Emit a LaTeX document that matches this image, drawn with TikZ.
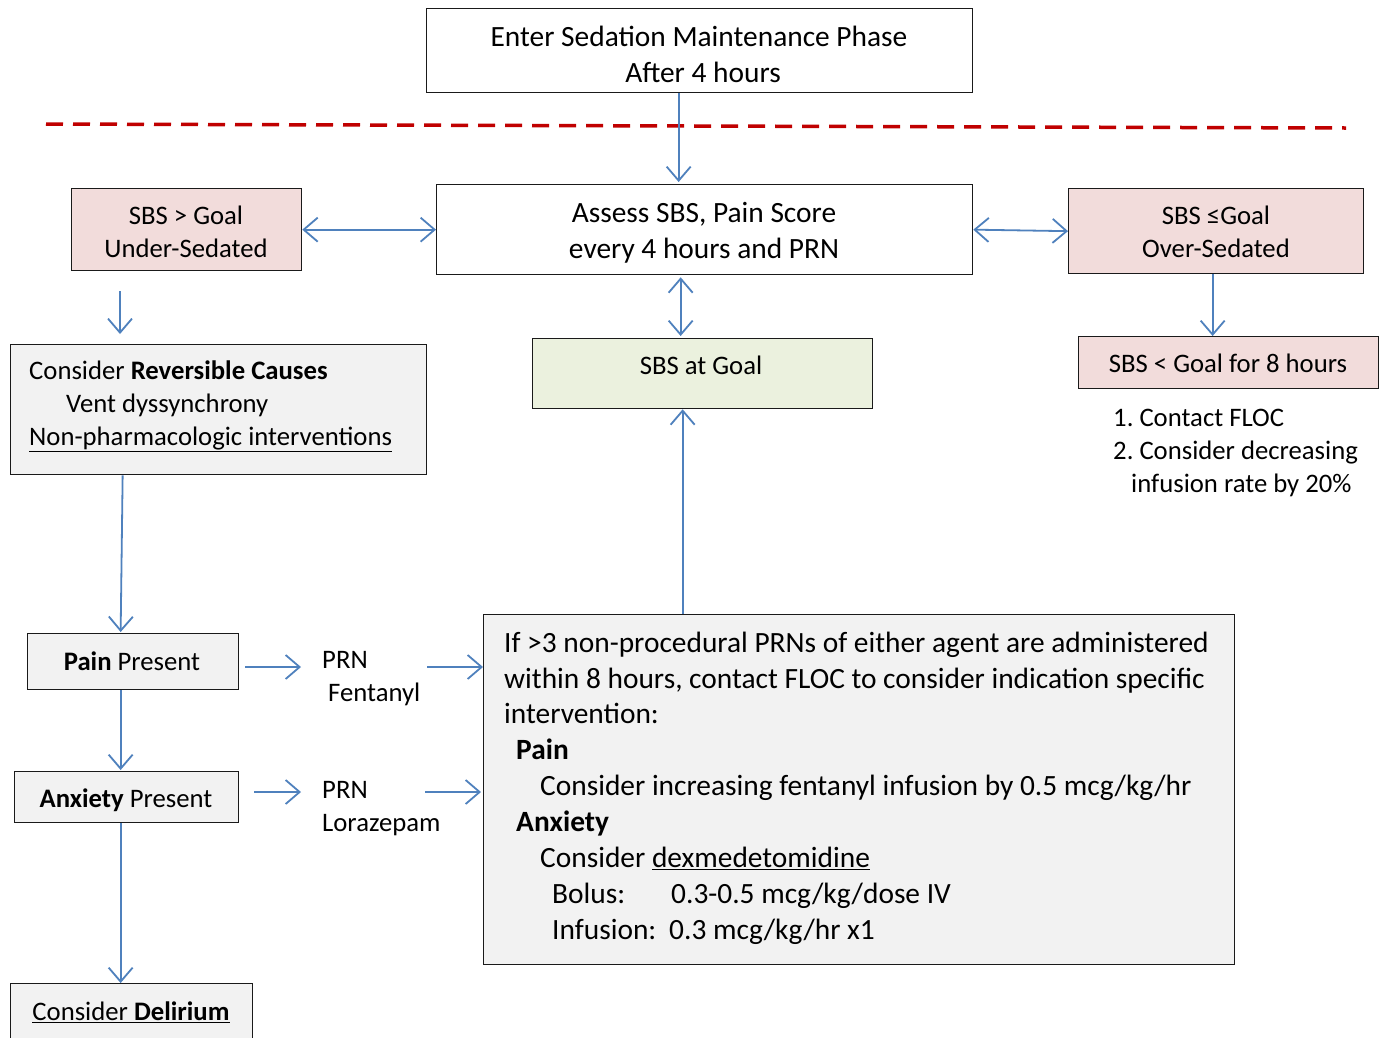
\documentclass[tikz,border=0pt]{standalone}
\usepackage{fontspec}
\setmainfont{Carlito}
\usetikzlibrary{arrows.meta}
\definecolor{flowblue}{HTML}{4F81BD}
\definecolor{dashred}{HTML}{C00000}
\definecolor{pinkfill}{HTML}{F2DCDB}
\definecolor{greenfill}{HTML}{EBF1DE}
\definecolor{grayfill}{HTML}{F2F2F2}
\definecolor{edge}{HTML}{1A1A1A}
\begin{document}
\begin{tikzpicture}[x=1pt,y=-1pt,
  box/.style={draw=edge, line width=1.3pt, rectangle, inner sep=0pt, anchor=north west},
  pinkbox/.style={box, fill=pinkfill},
  greenbox/.style={box, fill=greenfill},
  graybox/.style={box, fill=grayfill},
  txt/.style={inner sep=0pt, font=\fontsize{26.7}{32}\selectfont},
  bigtxt/.style={inner sep=0pt, font=\fontsize{29.4}{36}\selectfont},
  tip/.tip={Straight Barb[length=14pt,width=24pt]},
  flow/.style={draw=flowblue, line width=1.8pt, -tip},
  both/.style={draw=flowblue, line width=1.8pt, tip-tip},
]
\useasboundingbox (0,0) rectangle (1386,1037);
\fill[white] (0,0) rectangle (1386,1037);

% boxes
\node[box, minimum width=546pt, minimum height=84pt] (top) at (426,8) {};
\node[box, minimum width=536pt, minimum height=90pt] (assess) at (436,184) {};
\node[pinkbox, minimum width=230pt, minimum height=82pt] (under) at (71,188) {};
\node[pinkbox, minimum width=295pt, minimum height=85pt] (over) at (1068,188) {};
\node[pinkbox, minimum width=300pt, minimum height=52pt] (low8) at (1078,336) {};
\node[greenbox, minimum width=340pt, minimum height=70pt] (goal) at (532,338) {};
\node[graybox, minimum width=416pt, minimum height=130pt] (cons) at (10,344) {};
\node[graybox, minimum width=211pt, minimum height=56pt] (pain) at (27,633) {};
\node[graybox, minimum width=224pt, minimum height=51pt] (anx) at (14,771) {};
\node[graybox, minimum width=242pt, minimum height=70pt] (delir) at (10,983) {};
\node[graybox, minimum width=751pt, minimum height=350pt] (big) at (483,614) {};

% phase separator
\coordinate (sepL) at (46,124);
\coordinate (sepR) at (1346,128);
\draw[dashred, line width=3.5pt, dash pattern=on 17pt off 10pt] (sepL) -- (sepR);

% box texts
\node[bigtxt, anchor=base] (topA) at (699,46.5) {Enter Sedation Maintenance Phase};
\node[bigtxt, anchor=base] (topB) at (703,82.5) {After 4 hours};
\node[bigtxt, anchor=base] (asA) at (704,222.5) {Assess SBS, Pain Score};
\node[bigtxt, anchor=base] (asB) at (704,258.5) {every 4 hours and PRN};
\node[txt, anchor=base] (unA) at (186,224.5) {SBS > Goal};
\node[txt, anchor=base] (unB) at (186,257.5) {Under-Sedated};
\node[txt, anchor=base] (ovA) at (1216,224.5) {SBS ≤Goal};
\node[txt, anchor=base] (ovB) at (1216,257.5) {Over-Sedated};
\node[txt, anchor=base] (l8) at (1228,372.5) {SBS < Goal for 8 hours};
\node[txt, anchor=base west] (stepA) at (1113,426.5) {1.~Contact FLOC};
\node[txt, anchor=base west] (stepB) at (1113,459.5) {2.~Consider decreasing};
\node[txt, anchor=base west] (stepC) at (1131,492.5) {infusion rate by 20\%};
\node[txt, anchor=base] (gl) at (701,374.5) {SBS at Goal};
\node[txt, anchor=base west] (csA) at (29,379.5) {Consider \textbf{Reversible Causes}};
\node[txt, anchor=base west] (csB) at (66,412.5) {Vent dyssynchrony};
\node[txt, anchor=base west] (csC) at (29,445.5) {\underline{Non-pharmacologic interventions}};
\node[txt, anchor=base] (pn) at (132,670.5) {\textbf{Pain} Present};
\node[txt, anchor=base] (ax) at (126,807.5) {\textbf{Anxiety} Present};
\node[txt, anchor=base] (dl) at (131,1020.5) {\underline{Consider \textbf{Delirium}}};
\node[txt, anchor=base west] (fA) at (322,668.5) {PRN};
\node[txt, anchor=base west] (fB) at (328,701.5) {Fentanyl};
\node[txt, anchor=base west] (lA) at (322,798.5) {PRN};
\node[txt, anchor=base west] (lB) at (322,831.5) {Lorazepam};

\node[bigtxt, anchor=base west] (bg1) at (504,652.5) {If >3 non-procedural PRNs of either agent are administered};
\node[bigtxt, anchor=base west] (bg2) at (504,688.5) {within 8 hours, contact FLOC to consider indication specific};
\node[bigtxt, anchor=base west] (bg3) at (504,723.5) {intervention:};
\node[bigtxt, anchor=base west] (bg4) at (516,759.5) {\textbf{Pain}};
\node[bigtxt, anchor=base west] (bg5) at (540,795.5) {Consider increasing fentanyl infusion by 0.5 mcg/kg/hr};
\node[bigtxt, anchor=base west] (bg6) at (516,831.5) {\textbf{Anxiety}};
\node[bigtxt, anchor=base west] (bg7) at (540,867.5) {Consider \underline{dexmedetomidine}};
\node[bigtxt, anchor=base west] (bg8) at (552,903.5) {Bolus:};
\node[bigtxt, anchor=base west] (bg8v) at (671,903.5) {0.3-0.5 mcg/kg/dose IV};
\node[bigtxt, anchor=base west] (bg9) at (552,939.5) {Infusion:};
\node[bigtxt, anchor=base west] (bg9v) at (669,939.5) {0.3 mcg/kg/hr x1};

% connectors
\draw[flow] ([xshift=-21pt]top.south) -- ([xshift=-26pt,yshift=2pt]assess.north);
\draw[both] (under.east) -- (assess.west);
\draw[both] (assess.east) -- (over.west);
\draw[flow] ([xshift=-3.5pt]over.south) -- ([xshift=-16pt]low8.north);
\draw[both] ([xshift=-24pt,yshift=-2pt]assess.south) -- ([xshift=-22pt,yshift=2pt]goal.north);
\draw[flow] ([xshift=-176.5pt]big.north) -- ([xshift=-20pt]goal.south);
\coordinate (uA) at (120,291);
\coordinate (uB) at (120,334);
\draw[flow] (uA) -- (uB);
\draw[flow] ([xshift=-96pt]cons.south) -- ([xshift=-12.5pt,yshift=1pt]pain.north);
\draw[flow] ([xshift=-12.5pt]pain.south) -- ([xshift=-6pt,yshift=1pt]anx.north);
\draw[flow] ([xshift=-6pt]anx.south) -- ([xshift=-11pt]delir.north);
\coordinate (pA) at (245,667);
\coordinate (pB) at (301,667);
\coordinate (pC) at (427,667);
\draw[flow] (pA) -- (pB);
\draw[flow] (pC) -- (big.west |- pC);
\coordinate (aA) at (254,792);
\coordinate (aB) at (301,792);
\coordinate (aC) at (425,792);
\draw[flow] (aA) -- (aB);
\draw[flow] (aC) -- ([xshift=-2pt]big.west |- aC);
\end{tikzpicture}
\end{document}
